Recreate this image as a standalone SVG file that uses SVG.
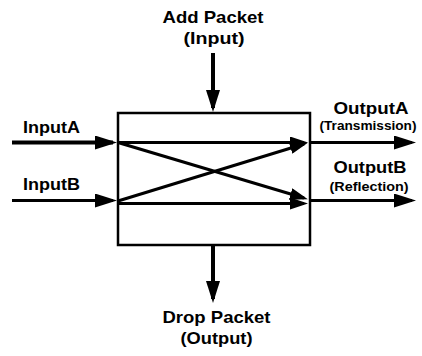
<svg xmlns="http://www.w3.org/2000/svg" width="422" height="356" viewBox="0 0 422 356">
  <style>
    .lbl { font-family: "Liberation Sans", Arial, sans-serif; font-weight: bold; fill: #000; }
    .big { font-size: 17px; }
    .small { font-size: 12.5px; }
    .box { fill: #fff; stroke: #000; stroke-width: 2.5; }
    .wire { fill: none; stroke: #000; }
    .thick { stroke-width: 4; }
    .thin { stroke-width: 3; }
  </style>
  <defs>
    <marker id="head" viewBox="0 0 22 14" refX="18" refY="7" markerWidth="22" markerHeight="14" markerUnits="userSpaceOnUse" orient="auto">
      <path d="M0,0 L22,7 L0,14 z" fill="#000"/>
    </marker>
    <marker id="headSmall" viewBox="0 0 18 12" refX="14" refY="6" markerWidth="18" markerHeight="12" markerUnits="userSpaceOnUse" orient="auto">
      <path d="M0,0 L18,6 L0,12 z" fill="#000"/>
    </marker>
  </defs>

  <!-- switching element -->
  <g id="coupler">
    <rect class="box" x="118" y="113" width="192" height="132"/>
  </g>

  <!-- port labels -->
  <g id="add-packet">
    <text class="lbl big" x="213" y="23" text-anchor="middle" textLength="101" lengthAdjust="spacingAndGlyphs">Add Packet</text>
    <text class="lbl big" x="214" y="44" text-anchor="middle" textLength="61" lengthAdjust="spacingAndGlyphs">(Input)</text>
  </g>
  <g id="input-a">
    <text class="lbl big" x="23" y="133" textLength="57" lengthAdjust="spacingAndGlyphs">InputA</text>
  </g>
  <g id="input-b">
    <text class="lbl big" x="23" y="190" textLength="57" lengthAdjust="spacingAndGlyphs">InputB</text>
  </g>
  <g id="output-a">
    <text class="lbl big" x="371" y="114" text-anchor="middle" textLength="75" lengthAdjust="spacingAndGlyphs">OutputA</text>
    <text class="lbl small" x="368" y="130" text-anchor="middle" textLength="97" lengthAdjust="spacingAndGlyphs">(Transmission)</text>
  </g>
  <g id="output-b">
    <text class="lbl big" x="370" y="173" text-anchor="middle" textLength="73" lengthAdjust="spacingAndGlyphs">OutputB</text>
    <text class="lbl small" x="369" y="190.5" text-anchor="middle" textLength="79" lengthAdjust="spacingAndGlyphs">(Reflection)</text>
  </g>
  <g id="drop-packet">
    <text class="lbl big" x="216.5" y="322.5" text-anchor="middle" textLength="108" lengthAdjust="spacingAndGlyphs">Drop Packet</text>
    <text class="lbl big" x="216.5" y="344" text-anchor="middle" textLength="72" lengthAdjust="spacingAndGlyphs">(Output)</text>
  </g>

  <!-- connectors -->
  <g id="connectors">
    <!-- add / drop -->
    <line class="wire thick" x1="213" y1="53" x2="213" y2="108" marker-end="url(#head)"/>
    <line class="wire thick" x1="213" y1="246" x2="213" y2="299" marker-end="url(#head)"/>
    <!-- inputs -->
    <line class="wire thick" x1="12" y1="142.5" x2="113" y2="142.5" marker-end="url(#head)"/>
    <line class="wire thin" x1="12" y1="200.5" x2="113" y2="200.5" marker-end="url(#head)"/>
    <!-- paths through the element -->
    <line class="wire thin" x1="118" y1="142.5" x2="304" y2="142.5" marker-end="url(#headSmall)"/>
    <line class="wire thin" x1="118" y1="203.5" x2="304" y2="203.5" marker-end="url(#headSmall)"/>
    <line class="wire thin" x1="118" y1="142.5" x2="304" y2="198" marker-end="url(#headSmall)"/>
    <line class="wire thin" x1="118" y1="201" x2="304" y2="144" marker-end="url(#headSmall)"/>
    <!-- outputs -->
    <line class="wire thin" x1="310" y1="142.5" x2="412" y2="142.5" marker-end="url(#head)"/>
    <line class="wire thin" x1="310" y1="200.5" x2="412" y2="200.5" marker-end="url(#head)"/>
  </g>
</svg>
